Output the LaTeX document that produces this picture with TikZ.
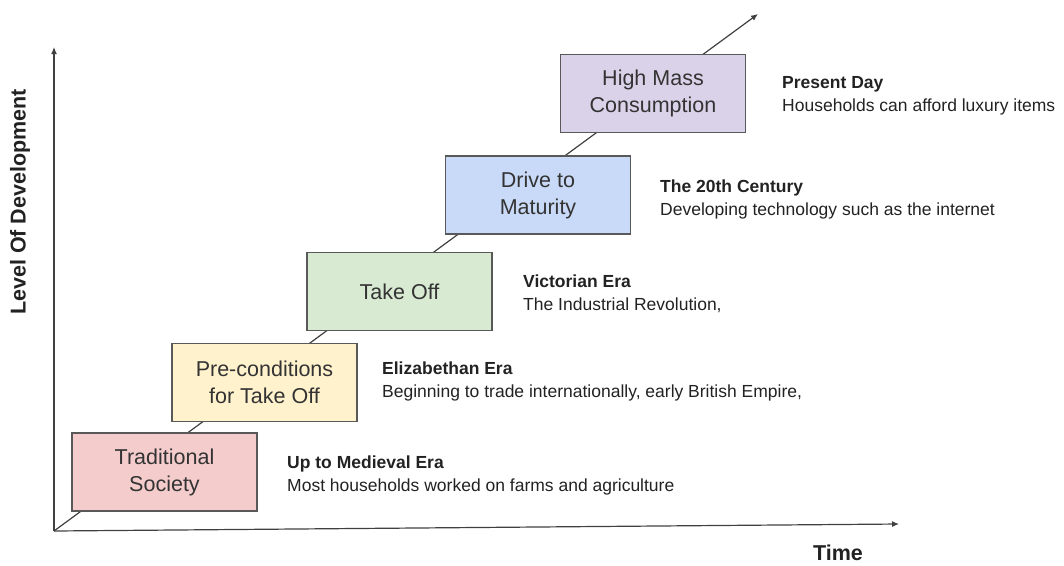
\documentclass[tikz,border=0pt]{standalone}
\usepackage{fontspec}
\setmainfont{Liberation Sans}
\usetikzlibrary{arrows.meta}
\definecolor{boxline}{HTML}{595959}
\definecolor{axisline}{HTML}{404040}
\definecolor{txt}{HTML}{222222}
\definecolor{boxtxt}{HTML}{333333}
\definecolor{fillred}{HTML}{F4CCCC}
\definecolor{fillyellow}{HTML}{FFF2CC}
\definecolor{fillgreen}{HTML}{D9EAD3}
\definecolor{fillblue}{HTML}{C9DAF8}
\definecolor{fillpurple}{HTML}{D9D2E9}
\tikzset{
  stagebox/.style={draw=boxline, line width=1.3pt, minimum width=185pt, minimum height=78pt,
    align=center, inner sep=2pt, text=boxtxt, font=\fontsize{21.5}{27}\selectfont},
  eralabel/.style={anchor=west, align=left, inner sep=0pt, text=txt,
    font=\fontsize{17.5}{23}\selectfont},
  axislabel/.style={inner sep=0pt, text=txt, font=\fontsize{21.5}{26}\selectfont\bfseries},
  axisarrow/.style={draw=axisline, line width=1.2pt, -{Latex[length=7pt,width=6pt]}}
}
\begin{document}
\begin{tikzpicture}[x=1pt,y=-1pt]
\useasboundingbox (0,0) rectangle (1064,565);
% coordinates
\coordinate (O) at (54,531);
\coordinate (Ytop) at (54,47);
\coordinate (Xend) at (899,524);
\coordinate (Dtip) at (758,14);
% diagonal growth line (behind boxes)
\draw[axisarrow] (O) -- (Dtip);
% axes
\draw[axisarrow] (O) -- (Ytop);
\draw[axisarrow] (O) -- (Xend);
% stage boxes
\node[stagebox, fill=fillred]    (trad)  at (164.5,472)  {Traditional\\Society};
\node[stagebox, fill=fillyellow] (pre)   at (264.5,382.5) {Pre-conditions\\for Take Off};
\node[stagebox, fill=fillgreen]  (take)  at (399.5,291.5) {Take Off};
\node[stagebox, fill=fillblue]   (drive) at (538,195)    {Drive to\\Maturity};
\node[stagebox, fill=fillpurple] (high)  at (653,93.5)   {High Mass\\Consumption};
% era labels
\node[eralabel] (l1) at (287,475)   {\textbf{Up to Medieval Era}\\Most households worked on farms and agriculture};
\node[eralabel] (l2) at (382,381.5) {\textbf{Elizabethan Era}\\Beginning to trade internationally, early British Empire,};
\node[eralabel] (l3) at (523,294)   {\textbf{Victorian Era}\\The Industrial Revolution,};
\node[eralabel] (l4) at (660,199)   {\textbf{The 20th Century}\\Developing technology such as the internet};
\node[eralabel] (l5) at (782,96)    {\textbf{Present Day}\\Households can afford luxury items};
% axis labels
\node[axislabel, rotate=90] (ylab) at (20,202) {Level Of Development};
\node[axislabel] (xlab) at (838,553) {Time};
\end{tikzpicture}
\end{document}
